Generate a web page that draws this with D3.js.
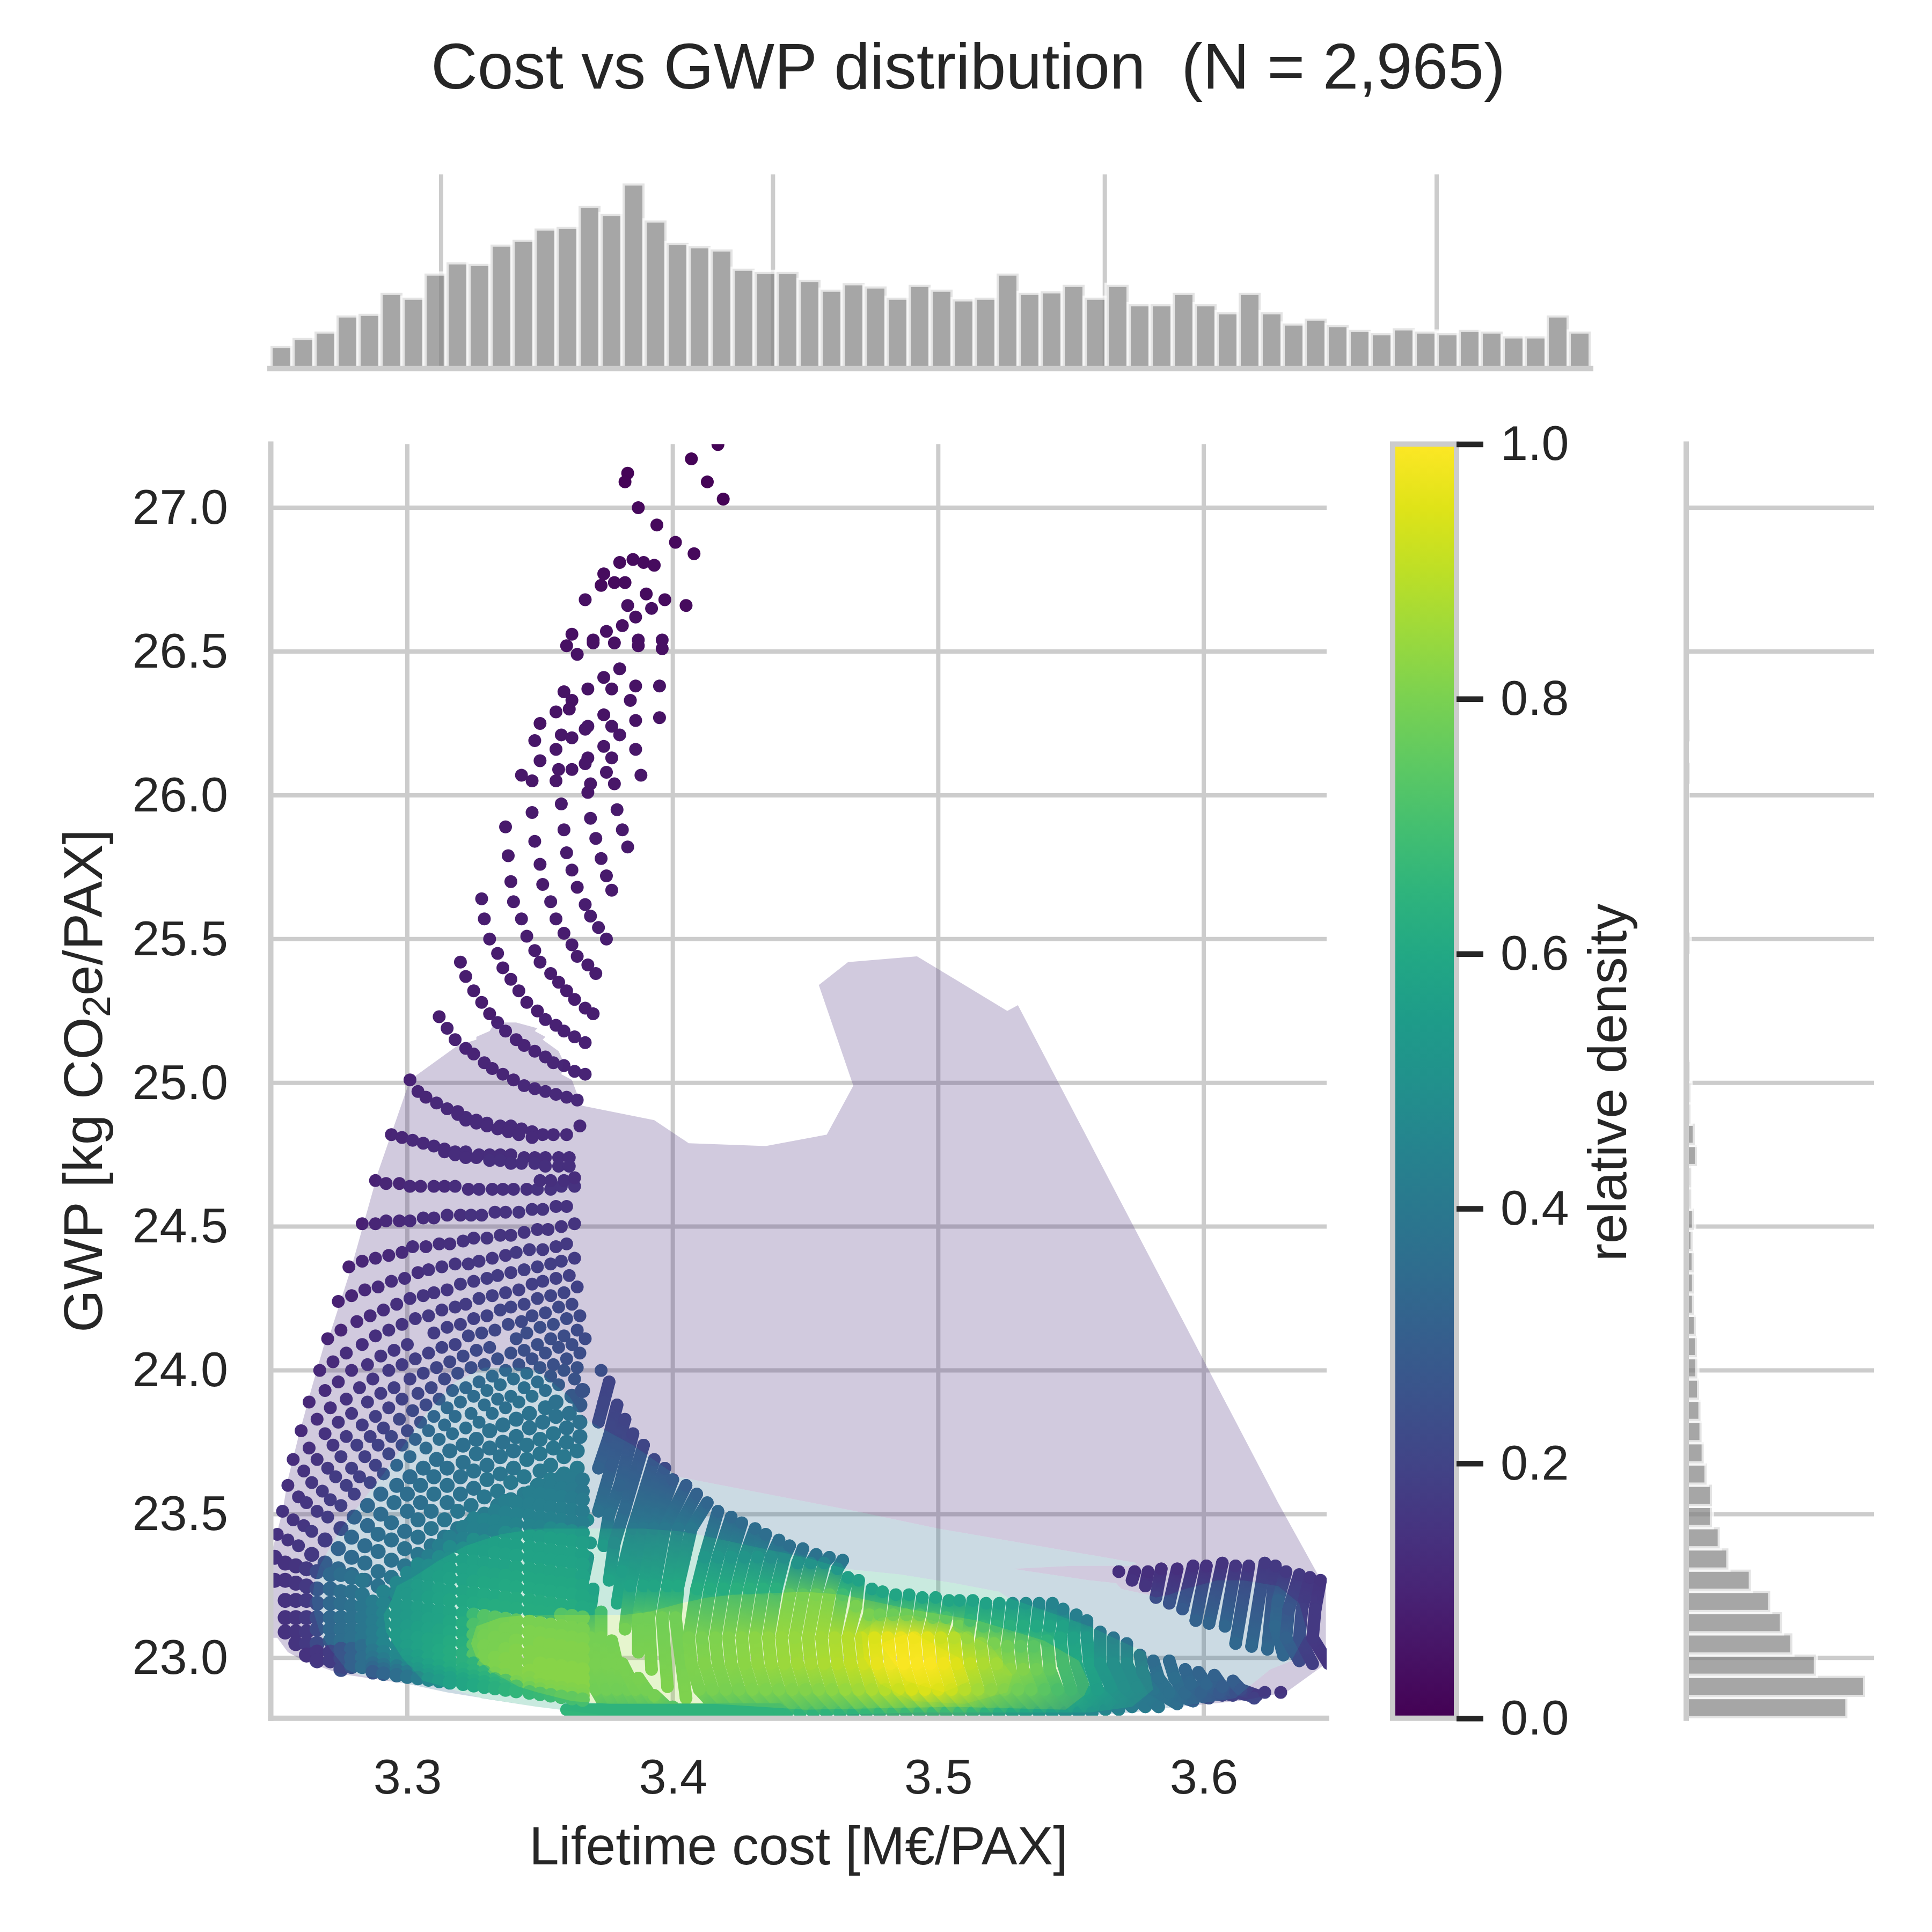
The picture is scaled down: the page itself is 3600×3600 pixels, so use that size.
<!DOCTYPE html>
<html><head><meta charset="utf-8">
<script src="https://cdn.jsdelivr.net/npm/d3@7"></script>
<style>
html,body{margin:0;background:#fff}
text{font-family:"Liberation Sans",Arial,sans-serif;fill:#262626}
</style></head><body>
<svg id="chart" width="3600" height="3600"></svg>
<script>
// ticks
const xTicks=[3.3,3.4,3.5,3.6]
const yTicks=[23,23.5,24,24.5,25,25.5,26,26.5,27]
const cbarTicks=[0,0.2,0.4,0.6,0.8,1]

// marginal histograms (counts per bin)
const topCounts=[14,19,23,33,34,47,44,59,66,65,77,80,87,88,101,96,115,92,78,76,74,62,60,60,55,49,53,51,44,52,49,43,44,59,47,48,52,44,52,40,40,47,40,35,47,35,28,31,27,24,22,25,23,22,24,23,20,20,33,23]
const rightCounts=[451,500,363,297,268,235,181,118,94,72,72,57,49,43,40,36,31,30,27,22,22,21,18,22,14,14,30,24,12,12,10,4,4,4,1,4,10,1,1,1,1,1,1,4,10,1,10,1,1,1,1,1,1,1,1,1,1,1,1,1]

// kde bands: cost (x1000), gwp (x100) outline pairs, inner to outer nesting
const bandDensity=[12,35,62,85,92,98]
const bandLavender=[3301,2501,3319,2513,3326,2515,3326,2516,3331,2518,3333,2521,3341,2521,3349,2519,3348,2518,3352,2516,3351,2515,3357,2511,3359,2507,3358,2503,3362,2501,3364,2496,3366,2492,3393,2487,3406,2479,3435,2478,3458,2482,3468,2499,3455,2534,3466,2542,3492,2544,3526,2525,3530,2527,3628,2354,3643,2329,3646,2328,3646,2298,3631,2288,3613,2285,3590,2283,3573,2281,3557,2280,3531,2280,3375,2280,3349,2283,3315,2288,3300,2291,3278,2294,3273,2295,3267,2297,3261,2299,3255,2302,3251,2307,3249,2307,3249,2337,3253,2351,3255,2362,3259,2377,3264,2394,3269,2410,3271,2413,3279,2436,3289,2469]
const bandBlue=[3264,2320,3265,2326,3267,2332,3270,2337,3275,2345,3280,2351,3291,2364,3307,2385,3318,2396,3329,2401,3341,2401,3349,2400,3361,2391,3366,2384,3369,2382,3385,2374,3402,2363,3469,2351,3500,2345,3575,2333,3572,2332,3550,2332,3528,2331,3557,2327,3567,2326,3569,2324,3579,2322,3582,2321,3587,2322,3593,2324,3605,2327,3615,2327,3628,2325,3636,2319,3639,2309,3633,2299,3625,2296,3617,2290,3612,2286,3590,2283,3573,2281,3557,2280,3531,2280,3375,2280,3349,2283,3315,2288,3300,2291,3282,2294,3277,2296,3271,2303,3267,2309,3265,2315]
const bandTeal=[3291,2315,3294,2320,3296,2325,3302,2328,3312,2334,3322,2339,3335,2343,3349,2345,3368,2345,3389,2345,3403,2344,3409,2343,3419,2341,3429,2339,3450,2335,3465,2331,3486,2329,3506,2326,3523,2323,3526,2321,3557,2311,3573,2304,3578,2302,3581,2289,3573,2283,3557,2281,3528,2281,3493,2281,3450,2280,3375,2280,3349,2283,3328,2286,3310,2291,3306,2292,3298,2300,3292,2309]
const bandLime=[3324,2305,3326,2311,3335,2314,3345,2315,3362,2315,3376,2315,3382,2315,3391,2316,3403,2319,3413,2321,3423,2322,3450,2323,3464,2322,3489,2317,3515,2313,3540,2306,3553,2299,3557,2291,3555,2287,3548,2282,3506,2283,3450,2282,3416,2284,3376,2284,3362,2285,3349,2288,3342,2290,3332,2295,3326,2300]
const bandYellow=[3471,2309,3478,2314,3490,2315,3506,2311,3520,2304,3528,2294,3526,2288,3510,2284,3490,2285,3478,2291,3472,2300]
const bandPeak=[3478,2305,3490,2309,3508,2300,3512,2292,3502,2288,3488,2292]

// scatter, flat triples: cost x1000, gwp x100, relative density x100
const north=[3417,2722,1,3407,2717,1,3383,2712,1,3382,2709,1,3413,2709,1,3419,2703,1,3387,2700,2,3394,2694,2,3401,2688,2,3408,2684,2,3380,2681,3,3385,2682,3,3389,2681,3,3393,2680,3,3374,2677,3,3378,2674,3,3382,2674,3,3373,2673,3,3390,2670,3,3367,2668,4,3397,2668,3,3405,2666,3,3383,2666,4,3392,2665,4,3386,2662,4,3381,2659,4,3375,2657,4,3362,2656,4,3370,2654,4,3370,2653,4,3387,2654,4,3396,2654,4,3378,2653,4,3360,2652,4,3387,2652,4,3396,2651,4,3364,2649,5,3380,2644,5,3374,2641,5,3395,2638,5,3386,2638,5,3368,2637,5,3377,2637,5,3359,2636,5,3362,2633,5,3384,2633,5,3361,2630,5,3356,2629,5,3374,2628,5,3395,2627,5,3386,2626,5,3350,2625,5,3368,2624,6,3377,2624,6,3367,2623,6,3380,2621,6,3358,2621,6,3362,2620,6,3348,2619,6,3374,2617,6,3356,2616,6,3386,2616,6,3368,2613,6,3377,2613,6,3350,2612,6,3367,2611,6,3362,2609,6,3357,2609,6,3375,2608,6,3343,2607,6,3388,2607,6,3347,2605,6,3356,2605,6,3369,2604,6,3378,2604,6,3368,2601,6,3358,2597,7,3379,2595,7,3347,2594,7,3369,2592,7,3337,2589,7,3359,2588,7,3381,2588,7,3348,2584,7,3371,2585,7,3383,2582,7,3338,2579,7,3360,2580,7,3373,2578,7,3350,2576,7,3362,2574,7,3375,2572,7,3339,2570,7,3351,2569,7,3364,2568,7,3377,2567,7,3328,2564,8,3340,2563,8,3354,2563,8,3367,2562,8]
const s1=[3329,2557,8,3331,2550,8,3334,2545,8,3336,2540,8,3339,2536,8,3342,2532,8,3345,2528,8,3349,2525,8,3352,2522,9,3356,2520,9,3359,2518,9,3363,2516,9,3367,2514,9]
const s2=[3343,2557,8,3345,2551,8,3348,2546,8,3350,2542,8,3354,2538,8,3357,2535,8,3360,2532,8,3363,2529,8,3367,2526,8,3370,2524,8]
const s3=[3356,2557,8,3359,2552,8,3362,2548,8,3364,2544,8,3368,2541,8,3371,2538,8]
const s4=[3369,2558,8,3372,2554,8,3375,2550,8]
const s5=[3320,2542,8,3322,2537,8,3325,2532,8,3328,2528,8,3331,2524,8,3334,2521,9,3337,2518,9,3341,2515,9,3344,2513,9,3348,2511,9,3352,2509,10,3355,2507,10,3359,2506,10,3363,2504,10,3367,2503,10]
const s6=[3312,2523,8,3315,2519,9,3318,2515,9,3322,2512,9,3325,2510,9,3329,2507,10,3332,2505,10,3336,2503,10,3340,2501,10,3344,2499,11,3348,2498,11,3352,2497,11,3356,2496,11,3360,2495,11,3364,2494,11]
const s7=[3301,2501,9,3304,2497,10,3307,2495,10,3311,2493,11,3315,2491,11,3319,2490,11,3322,2488,12,3326,2487,12,3330,2486,12,3335,2485,12,3339,2485,12,3343,2484,12,3347,2483,12,3351,2482,12,3355,2482,12,3360,2482,12,3365,2485,11]
const s7b=[3319,2489,11,3322,2487,12,3326,2486,12,3330,2485,12,3334,2484,12,3338,2483,12,3342,2482,12,3347,2481,12]
const r8=[3294,2482,10,3298,2481,10,3302,2480,11,3306,2479,11,3310,2478,12,3314,2477,12,3318,2476,13,3322,2476,13,3327,2475,13,3331,2475,13,3335,2475,13,3339,2475,13,3344,2474,13,3348,2474,13,3352,2474,13,3357,2474,13,3361,2474,13]
const r8b=[3314,2476,12,3318,2475,13,3322,2474,13,3326,2474,13,3331,2473,14,3335,2473,14,3339,2472,14,3343,2472,14,3348,2472,14,3352,2471,14,3357,2471,14,3361,2471,14]
const r9=[3288,2466,9,3292,2465,10,3297,2465,10,3301,2464,11,3305,2464,11,3310,2464,12,3314,2464,12,3318,2464,13,3323,2463,13,3327,2463,14,3332,2463,14,3336,2463,14,3340,2463,14,3345,2463,14,3349,2463,15,3354,2463,15,3358,2464,15,3363,2464,15]
const r9b=[3350,2466,14,3354,2466,14,3359,2466,14,3363,2467,13]
const r10=[3283,2451,9,3288,2451,10,3292,2452,11,3297,2452,11,3301,2452,12,3306,2453,13,3310,2453,13,3315,2454,14,3320,2454,14,3324,2454,15,3328,2454,15,3333,2455,15,3337,2455,15,3342,2455,16,3347,2456,16,3351,2456,16,3356,2457,15,3360,2457,15]
const r11=[3278,2436,9,3283,2438,10,3288,2439,11,3293,2440,11,3298,2441,12,3302,2443,13,3307,2443,13,3312,2444,14,3316,2444,14,3321,2445,15,3325,2446,15,3330,2446,16,3335,2447,16,3339,2447,16,3344,2448,16,3349,2449,16,3353,2449,16,3358,2450,16,3363,2451,16]
const r12=[3274,2424,9,3279,2426,10,3284,2428,11,3289,2429,12,3294,2431,13,3299,2432,14,3304,2434,14,3308,2435,15,3313,2436,16,3318,2437,16,3323,2437,17,3327,2438,17,3332,2439,17,3337,2440,17,3341,2441,18,3346,2442,18,3351,2442,18,3356,2443,18,3360,2444,18]
const r13=[3270,2411,10,3275,2414,10,3281,2417,11,3286,2419,12,3291,2421,13,3296,2423,14,3301,2425,15,3306,2426,16,3310,2427,16,3315,2428,17,3320,2430,18,3325,2431,18,3330,2432,19,3334,2433,19,3339,2434,19,3344,2435,20,3349,2436,20,3354,2437,20,3358,2438,20,3363,2439,19]
const r14=[3267,2400,11,3272,2403,12,3277,2406,13,3283,2409,14,3288,2412,14,3293,2414,15,3298,2416,16,3303,2418,17,3308,2419,18,3313,2421,18,3318,2422,19,3322,2423,19,3327,2425,20,3332,2426,21,3337,2427,21,3342,2428,21,3347,2430,21,3351,2431,21,3356,2432,21,3361,2433,21]
const r15=[3263,2389,11,3269,2393,12,3274,2396,13,3279,2400,14,3285,2402,15,3290,2405,16,3295,2407,17,3300,2409,18,3310,2413,19,3315,2415,20,3320,2416,21,3325,2418,21,3330,2419,22,3335,2421,23,3339,2422,23,3344,2423,23,3349,2425,23,3354,2426,23,3359,2427,23,3364,2429,22]
const r16=[3260,2379,12,3266,2383,13,3271,2387,14,3277,2390,15,3282,2394,16,3287,2397,17,3293,2400,18,3298,2402,19,3303,2404,20,3308,2406,21,3313,2408,22,3318,2409,22,3323,2412,23,3328,2413,24,3333,2414,24,3338,2416,25,3343,2417,25,3347,2419,25,3352,2420,25,3357,2422,25,3362,2423,24]
const r17=[3257,2369,13,3263,2373,14,3269,2378,15,3274,2382,16,3279,2385,17,3285,2389,18,3290,2392,19,3295,2394,20,3301,2397,21,3306,2399,22,3311,2401,23,3316,2403,24,3321,2405,25,3326,2407,25,3331,2408,26,3341,2411,27,3345,2413,27,3350,2415,27,3355,2416,27,3360,2418,26,3365,2419,25]
const r18=[3255,2360,14,3261,2365,15,3266,2369,16,3272,2374,17,3277,2377,18,3283,2381,19,3288,2384,20,3293,2387,21,3298,2390,22,3304,2392,23,3309,2394,24,3314,2397,25,3319,2399,27,3324,2401,27,3329,2402,28,3334,2404,28,3339,2406,28,3344,2407,28,3349,2409,28,3354,2411,27,3359,2412,27,3364,2414,26]
const r19=[3253,2351,15,3259,2356,16,3264,2361,17,3270,2366,18,3275,2370,19,3281,2374,20,3286,2377,21,3291,2380,22,3297,2383,24,3302,2386,25,3307,2388,26,3312,2390,28,3317,2393,30,3322,2394,33,3327,2396,34,3332,2398,34,3337,2400,33,3342,2402,29,3347,2404,28,3352,2406,28,3357,2408,27,3362,2409,27,3367,2411,26]
const l7=[3251,2343,15,3257,2348,16,3262,2354,17,3268,2358,18,3273,2363,19,3279,2366,20,3284,2370,21,3289,2374,22,3294,2377,24,3300,2379,25,3305,2382,27,3310,2384,32,3315,2387,34,3320,2389,35,3325,2391,35,3330,2393,36,3335,2395,36,3340,2397,36,3345,2399,36,3350,2401,30,3355,2402,29,3360,2404,28,3365,2406,27]
const l8=[3255,2341,16,3261,2346,17,3266,2351,18,3271,2355,19,3277,2360,20,3282,2363,21,3288,2367,22,3293,2371,24,3298,2374,26,3303,2376,30,3308,2379,34,3314,2381,35,3318,2384,35,3324,2385,36,3329,2388,36,3334,2390,36,3339,2391,37,3344,2394,37,3349,2396,36,3354,2398,31,3359,2400,30,3364,2401,29]
const l9=[3259,2339,17,3264,2344,18,3270,2349,19,3275,2353,20,3280,2357,21,3286,2361,23,3291,2364,26,3296,2367,32,3301,2370,34,3307,2373,35,3312,2376,36,3317,2378,36,3322,2380,37,3327,2382,37,3332,2385,37,3337,2387,37,3342,2389,38,3347,2391,38,3352,2393,36,3357,2395,33,3363,2397,30]
const l10=[3264,2336,18,3269,2341,19,3275,2345,22,3280,2349,31,3285,2353,33,3290,2357,34,3296,2360,35,3301,2363,35,3306,2366,36,3311,2369,36,3316,2372,37,3321,2374,37,3326,2376,37,3331,2379,38,3336,2381,38,3341,2383,38,3346,2385,39,3352,2387,39,3356,2389,38,3362,2391,33,3366,2393,30]
const l11=[3269,2333,28,3274,2338,31,3279,2342,33,3285,2346,34,3290,2350,35,3295,2354,36,3300,2357,36,3305,2360,37,3310,2363,37,3315,2366,37,3321,2368,38,3326,2371,38,3331,2373,38,3336,2375,38,3341,2377,39,3346,2380,39,3351,2382,39,3356,2384,39,3361,2385,38,3365,2388,33]
const l12=[3274,2331,33,3279,2335,34,3284,2339,35,3289,2343,36,3294,2347,36,3300,2351,37,3305,2354,37,3310,2357,38,3315,2360,38,3320,2363,38,3325,2365,39,3330,2367,39,3335,2370,39,3340,2372,39,3345,2374,40,3350,2376,40,3355,2378,40,3360,2380,39,3365,2382,38]
const l13=[3279,2329,35,3284,2333,36,3289,2337,36,3294,2341,37,3299,2344,37,3304,2348,38,3309,2351,38,3315,2354,39,3320,2357,39,3325,2359,39,3330,2362,40,3335,2364,40,3340,2366,40,3345,2369,41,3350,2371,41,3355,2373,41,3360,2375,40,3365,2377,39]
const l14=[3284,2327,37,3289,2330,38,3294,2334,38,3299,2338,39,3304,2342,39,3309,2345,40,3314,2348,40,3319,2351,41,3324,2353,41,3329,2356,41,3334,2358,42,3339,2361,42,3344,2363,42,3350,2365,42,3354,2367,42,3359,2370,42,3364,2372,41]
const l15=[3289,2325,39,3294,2328,40,3299,2332,40,3304,2336,41,3309,2339,41,3314,2342,42,3319,2345,42,3324,2347,43,3329,2350,43,3334,2353,43,3339,2355,44,3344,2357,44,3349,2360,44,3354,2362,44,3359,2364,44,3364,2366,43]
const l16=[3294,2322,42,3299,2326,43,3304,2329,43,3309,2332,44,3314,2336,45,3319,2339,45,3324,2341,45,3329,2344,46,3334,2347,46,3339,2349,46,3344,2352,46,3349,2354,46,3354,2356,46,3359,2359,46,3364,2360,45]
const looseDots=[3373,2400,28,3619,2286,21,3623,2288,18,3629,2288,16,3368,2348,50,3369,2340,52]
const sparseRows=[north,s1,s2,s3,s4,s5,s6,s7,s7b,r8,r8b,r9,r9b,r10,r11,r12,r13,r14,r15,r16,r17,r18,r19,l7,l8,l9,looseDots]
const midRows=[l10,l11,l12,l13,l14,l15,l16]

// left foot of the fan: shared cost columns, gwp x100 per row
const blockCost=[3250,3254,3258,3262,3266,3271,3275,3279,3283,3287,3291,3296,3300,3304,3308,3312,3316,3321,3325,3329,3333,3337,3341,3346,3350,3354,3358,3362,3366]
const footDens=[15,15,16,18,26,33,36,38,41]
const footDensLow=[15,15,15,15,17,19,24,30,36]
const rowB=[2335,2333,2332,2331,2330,2329,2329,2328,2327]
const rowC=[2327,2327,2326,2325,2324,2324,2323,2323,2322]
const rowD=[2320,2320,2320,2319,2319,2319,2318,2318]
const rowE=[2314,2314,2314,2314,2314,2314,2314,2314]
const rowF=[2309,2309,2309,2310,2310,2310,2310,2310]
const rowG=[2305,2305,2305,2306,2306,2307,2307]
const rowH=[2301,2302,2302,2303,2303,2304]
const rowI=[2299,2299,2300,2300,2300]
const rowJ=[2296,2297,2297]
const footRows=[[0,rowB,footDens],[0,rowC,footDens],[1,rowD,footDens],[1,rowE,footDens],[1,rowF,footDens],[2,rowG,footDens],[3,rowH,footDensLow],[4,rowI,footDensLow],[6,rowJ,footDensLow]]

// regular lattice of the dense part: start column, gwp x1000, density x100
const lat01=[26,[23630,23625,23620],[43,43,42]]
const lat02=[24,[23600,23595,23590,23585,23580],[44,44,44,43,42]]
const lat03=[23,[23575,23570,23565,23560,23555,23550],[45,45,45,45,44,43]]
const lat04=[21,[23545,23540,23535,23530,23525,23520,23515,23510],[45,46,46,46,46,46,45,44]]
const lat05=[20,[23510,23505,23500,23495,23490,23485,23480,23475,23470],[46,47,47,47,47,47,47,46,45]]
const lat06=[18,[23485,23480,23475,23470,23465,23460,23455,23450,23445,23440,23435],[47,48,48,48,48,48,48,52,53,53,52]]
const lat07=[17,[23455,23450,23445,23440,23435,23430,23425,23420,23415,23410,23405,23400],[46,47,47,48,53,54,54,54,55,55,55,54]]
const lat08=[16,[23420,23415,23410,23405,23400,23395,23390,23385,23380,23375,23370,23365,23360],[46,47,54,54,55,55,55,56,56,56,56,56,55]]
const lat09=[15,[23390,23385,23380,23375,23370,23365,23360,23355,23350,23345,23340,23335,23330,23325],[46,53,54,55,55,56,56,57,57,57,57,57,57,56]]
const lat10=[14,[23355,23350,23345,23340,23335,23330,23325,23320,23315,23310,23305,23300,23295,23290,23285],[46,53,54,55,56,56,57,57,58,58,58,58,58,58,57]]
const lat11=[13,[23325,23320,23315,23310,23305,23300,23295,23290,23285,23280,23275,23270,23265,23260,23255,23250],[52,53,54,55,56,57,58,58,59,59,59,59,59,59,59,58]]
const lat12=[12,[23295,23290,23285,23280,23275,23270,23265,23260,23255,23250,23245,23240,23235,23230,23225,23220,23215],[51,52,54,55,56,57,58,59,59,60,60,60,60,60,60,60,59]]
const lat13=[11,[23260,23255,23250,23245,23240,23235,23230,23225,23220,23215,23210,23205,23200,23195,23190,23185,23180,23175],[50,51,53,54,56,57,58,59,60,60,61,61,61,61,61,61,61,60]]
const lat14=[10,[23230,23225,23220,23215,23210,23205,23200,23195,23190,23185,23180,23175,23170,23165,23160,23155,23150,23145,23140],[48,50,51,53,55,57,58,59,60,61,62,62,62,62,62,62,76,77,77]]
const lat15=[9,[23195,23190,23185,23180,23175,23170,23165,23160,23155,23150,23145,23140,23135,23130,23125,23120,23115,23110,23105,23100],[44,48,50,52,54,55,57,58,60,70,76,77,77,78,78,78,78,78,78,78]]
const lat16=[9,[23160,23155,23150,23145,23140,23135,23130,23125,23120,23115,23110,23105,23100,23095,23090,23085,23080,23075,23070,23065],[44,48,50,52,54,56,57,59,62,74,76,77,78,78,79,79,79,79,79,79]]
const lat17=[9,[23125,23120,23115,23110,23105,23100,23095,23090,23085,23080,23075,23070,23065,23060,23055,23050,23045,23040,23035,23030],[44,48,51,53,55,57,58,60,62,75,77,78,78,79,79,80,80,80,80,80]]
const lat18=[9,[23090,23085,23080,23075,23070,23065,23060,23055,23050,23045,23040,23035,23030,23025,23020,23015,23010,23005,23000,22995],[44,49,52,54,56,58,59,61,63,76,78,78,79,80,80,80,80,80,80,80]]
const lat19=[9,[23055,23050,23045,23040,23035,23030,23025,23020,23015,23010,23005,23000,22995,22990,22985,22980,22975,22970,22965,22960],[44,49,52,54,56,58,60,62,64,76,78,79,80,80,80,81,81,81,81,81]]
const lat20=[9,[23025,23020,23015,23010,23005,23000,22995,22990,22985,22980,22975,22970,22965,22960,22955,22950,22945,22940,22935,22930],[42,47,51,53,55,58,60,62,64,66,78,79,80,80,81,81,81,81,81,81]]
const lat21=[9,[23000,22995,22990,22985,22980,22975,22970,22965,22960,22955,22950,22945,22940,22935,22930,22925,22920,22915,22910,22905],[40,44,50,52,54,57,59,61,63,65,67,78,79,80,80,81,81,81,81,81]]
const lat22=[9,[22980,22975,22970,22965,22960,22955,22950,22945,22940,22935,22930,22925,22920,22915,22910,22905,22900,22895,22890,22885],[36,40,44,50,52,55,57,59,61,63,65,67,69,78,79,80,80,80,80,80]]
const lat23=[9,[22965,22960,22955,22950,22945,22940,22935,22930,22925,22920,22915,22910,22905,22900,22895,22890,22885,22880,22875,22870],[33,36,40,44,50,53,55,57,59,61,63,65,67,68,76,78,79,79,79,79]]
const lat24=[9,[22950,22945,22940,22935,22930,22925,22920,22915,22910,22905,22900,22895,22890,22885,22880,22875,22870,22865,22860,22855],[28,32,36,40,44,50,53,56,58,60,62,64,66,67,68,69,70,72,72,73]]
const latticeRows=[lat01,lat02,lat03,lat04,lat05,lat06,lat07,lat08,lat09,lat10,lat11,lat12,lat13,lat14,lat15,lat16,lat17,lat18,lat19,lat20,lat21,lat22,lat23,lat24]

// dense strands, where the dots run together: same triples, read top to bottom
const strands=[
[3376,2396,23,3374,2389,24,3372,2382,26],
[3379,2388,23,3376,2377,25,3372,2366,30],
[3382,2383,23,3377,2367,28,3372,2351,38],
[3385,2378,23,3380,2360,31,3376,2350,38,3374,2339,52],
[3389,2374,24,3382,2352,34,3378,2340,44,3376,2327,57],
[3393,2369,25,3385,2345,42,3381,2330,54,3379,2319,60],
[3397,2366,26,3389,2345,42,3384,2325,57,3382,2310,77],
[3400,2362,27,3393,2345,42,3389,2325,58,3387,2314,76,3387,2302,78],
[3405,2360,28,3397,2345,42,3393,2325,58,3391,2314,76,3392,2296,79],
[3409,2357,30,3402,2345,42,3398,2325,60,3396,2314,76,3398,2290,79],
[3413,2354,32,3407,2345,42,3402,2325,60,3401,2314,76,3405,2286,79],
[3417,2351,33,3412,2335,50,3409,2324,62,3406,2307,78,3407,2298,79,3410,2289,78,3418,2281,66],
[3422,2349,34,3417,2335,50,3414,2324,62,3411,2307,78,3412,2298,80,3415,2289,78,3423,2281,66],
[3426,2347,35,3422,2335,50,3419,2324,62,3416,2307,79,3417,2298,80,3420,2289,78,3428,2281,66],
[3431,2345,36,3427,2335,49,3424,2324,64,3421,2307,80,3422,2298,81,3425,2289,78,3433,2281,66],
[3435,2343,36,3432,2335,49,3429,2324,64,3426,2307,81,3427,2298,82,3430,2289,79,3438,2281,66],
[3440,2341,37,3437,2335,46,3434,2324,64,3431,2307,82,3432,2298,83,3435,2289,79,3443,2281,66],
[3444,2339,37,3442,2335,45,3439,2324,64,3436,2307,83,3437,2298,84,3440,2289,79,3448,2281,66],
[3449,2338,38,3447,2333,48,3444,2322,78,3441,2307,84,3442,2298,85,3445,2289,80,3453,2281,66],
[3454,2336,39,3452,2333,48,3449,2322,78,3446,2307,84,3447,2298,86,3450,2289,80,3458,2281,66],
[3459,2335,40,3457,2333,48,3454,2322,79,3451,2307,85,3452,2298,87,3455,2289,81,3463,2281,66],
[3464,2334,41,3462,2331,50,3459,2322,79,3456,2307,86,3457,2298,88,3460,2289,82,3468,2281,66],
[3466,2328,55,3464,2322,70,3461,2307,88,3462,2298,90,3465,2289,84,3473,2281,68],
[3470,2327,56,3469,2318,78,3466,2307,90,3467,2298,92,3470,2289,86,3478,2281,68],
[3475,2324,56,3474,2315,78,3471,2307,92,3472,2298,95,3475,2289,88,3483,2281,70],
[3479,2323,58,3478,2315,76,3476,2307,95,3477,2298,98,3480,2289,90,3488,2281,70],
[3484,2322,58,3483,2315,75,3481,2307,97,3482,2298,100,3485,2289,92,3493,2281,70],
[3489,2322,58,3488,2315,75,3486,2307,98,3487,2298,100,3490,2289,94,3498,2281,70],
[3494,2321,58,3493,2315,74,3491,2307,98,3492,2298,100,3495,2289,95,3503,2281,70],
[3499,2321,58,3498,2314,74,3496,2307,96,3497,2298,100,3500,2289,94,3508,2281,70],
[3504,2320,58,3503,2314,72,3501,2307,92,3502,2298,98,3505,2289,92,3513,2281,68],
[3508,2320,57,3508,2311,76,3506,2307,88,3507,2298,94,3510,2289,88,3518,2281,66],
[3513,2320,57,3512,2313,66,3511,2307,82,3512,2298,90,3515,2289,84,3523,2281,64],
[3518,2319,56,3517,2311,68,3516,2305,82,3517,2298,86,3520,2289,80,3528,2281,62],
[3523,2319,55,3522,2311,66,3521,2305,78,3522,2298,84,3525,2289,78,3533,2281,60],
[3528,2319,53,3527,2311,64,3526,2304,76,3527,2296,82,3530,2289,76,3538,2281,58],
[3533,2319,52,3532,2311,62,3531,2304,72,3532,2296,80,3535,2289,74,3543,2281,56],
[3538,2319,50,3537,2311,60,3536,2304,70,3537,2296,76,3540,2289,70,3548,2281,54],
[3543,2319,48,3542,2311,58,3541,2306,66,3542,2296,72,3545,2289,66,3553,2281,52],
[3547,2317,47,3547,2311,56,3546,2307,60,3547,2298,64,3550,2289,62,3558,2281,50],
[3552,2315,46,3551,2307,56,3552,2298,60,3555,2289,58,3563,2282,48],
[3556,2313,44,3556,2307,52,3557,2298,56,3560,2289,54,3568,2282,46],
[3561,2309,42,3561,2298,50,3565,2290,49,3573,2283,44],
[3566,2307,40,3566,2298,46,3570,2290,46,3578,2283,42],
[3571,2305,38,3571,2298,44,3575,2290,44,3583,2283,40],
[3576,2301,36,3577,2295,40,3581,2289,40,3590,2284,36],
[3581,2299,35,3583,2293,38,3587,2288,38,3596,2285,32],
[3587,2299,34,3589,2293,36,3593,2288,34,3602,2286,28],
[3593,2296,32,3595,2291,33,3599,2288,30,3607,2287,24],
[3598,2295,31,3601,2291,32,3606,2288,26,3611,2287,22],
[3604,2294,30,3607,2290,28,3612,2288,22,3617,2287,20],
[3611,2292,28,3614,2289,26,3620,2287,18],
// tips of the fan, right side
[3368,2335,50,3366,2326,56,3365,2317,60,3365,2307,77,3367,2298,78,3371,2289,76,3376,2281,66],
[3370,2324,57,3369,2317,60,3369,2307,77,3371,2298,78,3375,2289,76,3380,2281,66],
[3373,2316,72,3373,2307,77,3375,2298,78,3379,2289,76,3384,2281,66],
[3377,2306,77,3379,2298,78,3383,2289,76,3388,2281,66],
[3381,2298,78,3386,2289,77,3392,2281,66],
[3387,2293,78,3390,2289,77,3396,2281,66],
[3393,2287,77,3400,2281,66],
[3400,2283,70,3404,2280,66],
// teal strip running along the floor
[3360,2282,66,3400,2282,66,3440,2282,66],
// cluster on the right
[3568,2330,14,3568,2330,14],
[3574,2330,14,3573,2327,15],
[3579,2330,14,3578,2325,16],
[3584,2331,14,3582,2321,21],
[3590,2331,14,3587,2319,23],
[3596,2332,15,3592,2317,26],
[3601,2332,15,3597,2313,30],
[3607,2333,16,3602,2312,31],
[3612,2332,17,3608,2311,32],
[3617,2332,17,3612,2305,33],
[3623,2333,18,3618,2304,33],
[3627,2332,18,3624,2303,33],
[3631,2330,18,3628,2320,30,3627,2311,33,3630,2301,32],
[3636,2329,18,3632,2317,24,3631,2307,30,3636,2299,26],
[3640,2328,17,3637,2317,20,3636,2307,22,3641,2298,20],
[3644,2327,16,3642,2317,18,3641,2307,18,3647,2298,16]
]

const svg=d3.select("#chart")
const xMain=d3.scaleLinear().domain([3.3,3.6]).range([759,2243])
const yMain=d3.scaleLinear().domain([23,27]).range([3089.3,946.1])
const xLeft=504.5,xRight=2472,yTop=827.5,yBottom=3201.7
const gridColor="#cccccc"
const triples=a=>d3.range(0,a.length,3).map(i=>({cost:a[i]/1000,gwp:a[i+1]/100,dens:a[i+2]/100}))
const viridis=d3.interpolateViridis

// title
svg.append("text").attr("x",1804).attr("y",165).attr("text-anchor","middle")
    .attr("font-size",120).attr("xml:space","preserve").style("white-space","pre")
    .text("Cost vs GWP distribution  (N = 2,965)")

// top histogram
const xTopHist=d3.scaleLinear().domain([3.3,3.6]).range([822,2677])
const xTopBand=d3.scaleBand().domain(d3.range(topCounts.length)).range([504,2964])
const yTopHist=d3.scaleLinear().domain([0,115]).range([686.7,341.7])
svg.append("g").selectAll("line").data(xTicks).join("line")
    .attr("x1",d=>xTopHist(d)).attr("x2",d=>xTopHist(d)).attr("y1",325).attr("y2",686.7)
    .attr("stroke",gridColor).attr("stroke-width",8)
svg.append("g").selectAll("rect").data(topCounts).join("rect")
    .attr("x",(d,i)=>xTopBand(i)).attr("width",xTopBand.bandwidth())
    .attr("y",d=>yTopHist(d)).attr("height",d=>686.7-yTopHist(d))
    .attr("fill","gray").attr("fill-opacity",0.7)
    .attr("stroke","white").attr("stroke-opacity",0.7).attr("stroke-width",8)
svg.append("line").attr("x1",498).attr("x2",2969).attr("y1",686.7).attr("y2",686.7)
    .attr("stroke",gridColor).attr("stroke-width",10)

// right histogram
const yRightBand=d3.scaleBand().domain(d3.range(rightCounts.length)).range([yBottom,yTop])
const xRightHist=d3.scaleLinear().domain([0,500]).range([3142,3475])
svg.append("g").selectAll("line").data(yTicks).join("line")
    .attr("x1",3142).attr("x2",3492).attr("y1",d=>yMain(d)).attr("y2",d=>yMain(d))
    .attr("stroke",gridColor).attr("stroke-width",8)
svg.append("g").selectAll("rect").data(rightCounts).join("rect")
    .attr("x",3142).attr("width",d=>xRightHist(d)-3142)
    .attr("y",(d,i)=>yRightBand(i)).attr("height",yRightBand.bandwidth())
    .attr("fill","gray").attr("fill-opacity",0.7)
    .attr("stroke","white").attr("stroke-opacity",0.7).attr("stroke-width",8)
svg.append("line").attr("x1",3142).attr("x2",3142).attr("y1",822.5).attr("y2",3206.7)
    .attr("stroke",gridColor).attr("stroke-width",10)

// main panel
const defs=svg.append("defs")
defs.append("clipPath").attr("id","mainClip").append("rect")
    .attr("x",xLeft).attr("y",yTop).attr("width",xRight-xLeft).attr("height",yBottom-yTop)
const grid=svg.append("g")
grid.selectAll(".gx").data(xTicks).join("line").attr("class","gx")
    .attr("x1",d=>xMain(d)).attr("x2",d=>xMain(d)).attr("y1",yTop).attr("y2",yBottom)
    .attr("stroke",gridColor).attr("stroke-width",8)
grid.selectAll(".gy").data(yTicks).join("line").attr("class","gy")
    .attr("x1",xLeft).attr("x2",xRight).attr("y1",d=>yMain(d)).attr("y2",d=>yMain(d))
    .attr("stroke",gridColor).attr("stroke-width",8)

const plot=svg.append("g").attr("clip-path","url(#mainClip)")
const dotR=12,midR=14,latticeR=13.5,strandWidth=23.5

// strands: each piece gets its own gradient between the two read densities
strands.forEach((s,si)=>{
    const pts=triples(s)
    pts.slice(1).forEach((p,i)=>{
        const a=pts[i],id="st"+si+"_"+i
        const g=defs.append("linearGradient").attr("id",id).attr("gradientUnits","userSpaceOnUse")
            .attr("x1",xMain(a.cost)).attr("y1",yMain(a.gwp)).attr("x2",xMain(p.cost)+0.01).attr("y2",yMain(p.gwp))
        g.append("stop").attr("offset",0).attr("stop-color",viridis(a.dens))
        g.append("stop").attr("offset",1).attr("stop-color",viridis(p.dens))
        plot.append("line").attr("x1",xMain(a.cost)).attr("y1",yMain(a.gwp))
            .attr("x2",xMain(p.cost)).attr("y2",yMain(p.gwp))
            .attr("stroke","url(#"+id+")").attr("stroke-width",strandWidth).attr("stroke-linecap","round")
    })
    plot.append("g").selectAll("circle").data(pts).join("circle")
        .attr("cx",d=>xMain(d.cost)).attr("cy",d=>yMain(d.gwp)).attr("r",strandWidth/2).attr("fill",d=>viridis(d.dens))
})

// scatter dots
const allDots=[]
sparseRows.forEach(r=>triples(r).forEach(d=>allDots.push({...d,r:dotR})))
midRows.forEach(r=>triples(r).forEach(d=>allDots.push({...d,r:midR})))
footRows.forEach(([start,gwps,dens])=>{
    gwps.forEach((g,i)=>allDots.push({cost:blockCost[start+i]/1000,gwp:g/100,dens:dens[start+i]/100,r:midR}))
})
latticeRows.forEach(([start,gwps,dens])=>{
    gwps.forEach((g,i)=>allDots.push({cost:blockCost[start+i]/1000,gwp:g/1000,dens:dens[i]/100,r:latticeR}))
})
plot.append("g").selectAll("circle").data(allDots).join("circle")
    .attr("cx",d=>xMain(d.cost)).attr("cy",d=>yMain(d.gwp)).attr("r",d=>d.r).attr("fill",d=>viridis(d.dens))

// kde bands over the dots, each band with the next one cut out
const bands=[bandLavender,bandBlue,bandTeal,bandLime,bandYellow,bandPeak]
const outline=b=>{
    const pts=d3.range(0,b.length,2).map(i=>[xMain(b[i]/1000),yMain(b[i+1]/100)])
    return d3.line()(pts)+"Z"
}
plot.append("g").selectAll("path").data(bands).join("path")
    .attr("d",(b,i)=>outline(b)+(bands[i+1]?outline(bands[i+1]):""))
    .attr("fill-rule","evenodd")
    .attr("fill",(b,i)=>viridis(bandDensity[i]/100)).attr("fill-opacity",0.25)

// spines and axes
svg.append("line").attr("x1",xLeft).attr("x2",xLeft).attr("y1",822.5).attr("y2",3206.7)
    .attr("stroke",gridColor).attr("stroke-width",10)
svg.append("line").attr("x1",499.5).attr("x2",2477).attr("y1",yBottom).attr("y2",yBottom)
    .attr("stroke",gridColor).attr("stroke-width",10)
const xAxis=d3.axisBottom(xMain).tickValues(xTicks).tickSize(0).tickFormat(d3.format(".1f"))
const yAxis=d3.axisLeft(yMain).tickValues(yTicks).tickSize(0).tickFormat(d3.format(".1f"))
const gx=svg.append("g").attr("transform","translate(0,3262)").call(xAxis)
const gy=svg.append("g").attr("transform","translate(425,0)").call(yAxis)
gx.selectAll("text").attr("font-size",91.7).attr("fill","#262626").attr("y",0).attr("dy","0.87em")
gy.selectAll("text").attr("font-size",91.7).attr("fill","#262626").attr("x",0)
gx.select(".domain").remove();gy.select(".domain").remove()
gx.attr("font-family",null);gy.attr("font-family",null)

svg.append("text").attr("x",1488).attr("y",3474).attr("text-anchor","middle").attr("font-size",100)
    .text("Lifetime cost [M€/PAX]")
const yLab=svg.append("text").attr("transform","translate(190,2014) rotate(-90)").attr("text-anchor","middle").attr("font-size",102)
yLab.append("tspan").text("GWP [kg CO")
yLab.append("tspan").attr("font-size",72).attr("dy",15).text("2")
yLab.append("tspan").attr("dy",-15).text("e/PAX]")

// colour bar
const yBar=d3.scaleLinear().domain([0,1]).range([yBottom,yTop])
const barGrad=defs.append("linearGradient").attr("id","barGrad").attr("x1",0).attr("x2",0).attr("y1",1).attr("y2",0)
d3.range(0,1.001,0.05).forEach(t=>barGrad.append("stop").attr("offset",t).attr("stop-color",viridis(t)))
svg.append("rect").attr("x",2595).attr("y",yTop).attr("width",119).attr("height",yBottom-yTop)
    .attr("fill","url(#barGrad)").attr("stroke",gridColor).attr("stroke-width",10)
const barAxis=d3.axisRight(yBar).tickValues(cbarTicks).tickSize(50).tickPadding(32).tickFormat(d3.format(".1f"))
const gb=svg.append("g").attr("transform","translate(2714,0)").call(barAxis)
gb.select(".domain").remove()
gb.selectAll("line").attr("stroke","#262626").attr("stroke-width",10.5)
gb.selectAll("text").attr("font-size",91.7).attr("fill","#262626")
gb.attr("font-family",null)
svg.append("text").attr("transform","translate(3030,2017) rotate(-90)").attr("text-anchor","middle").attr("font-size",100)
    .text("relative density")
</script>
</body></html>
